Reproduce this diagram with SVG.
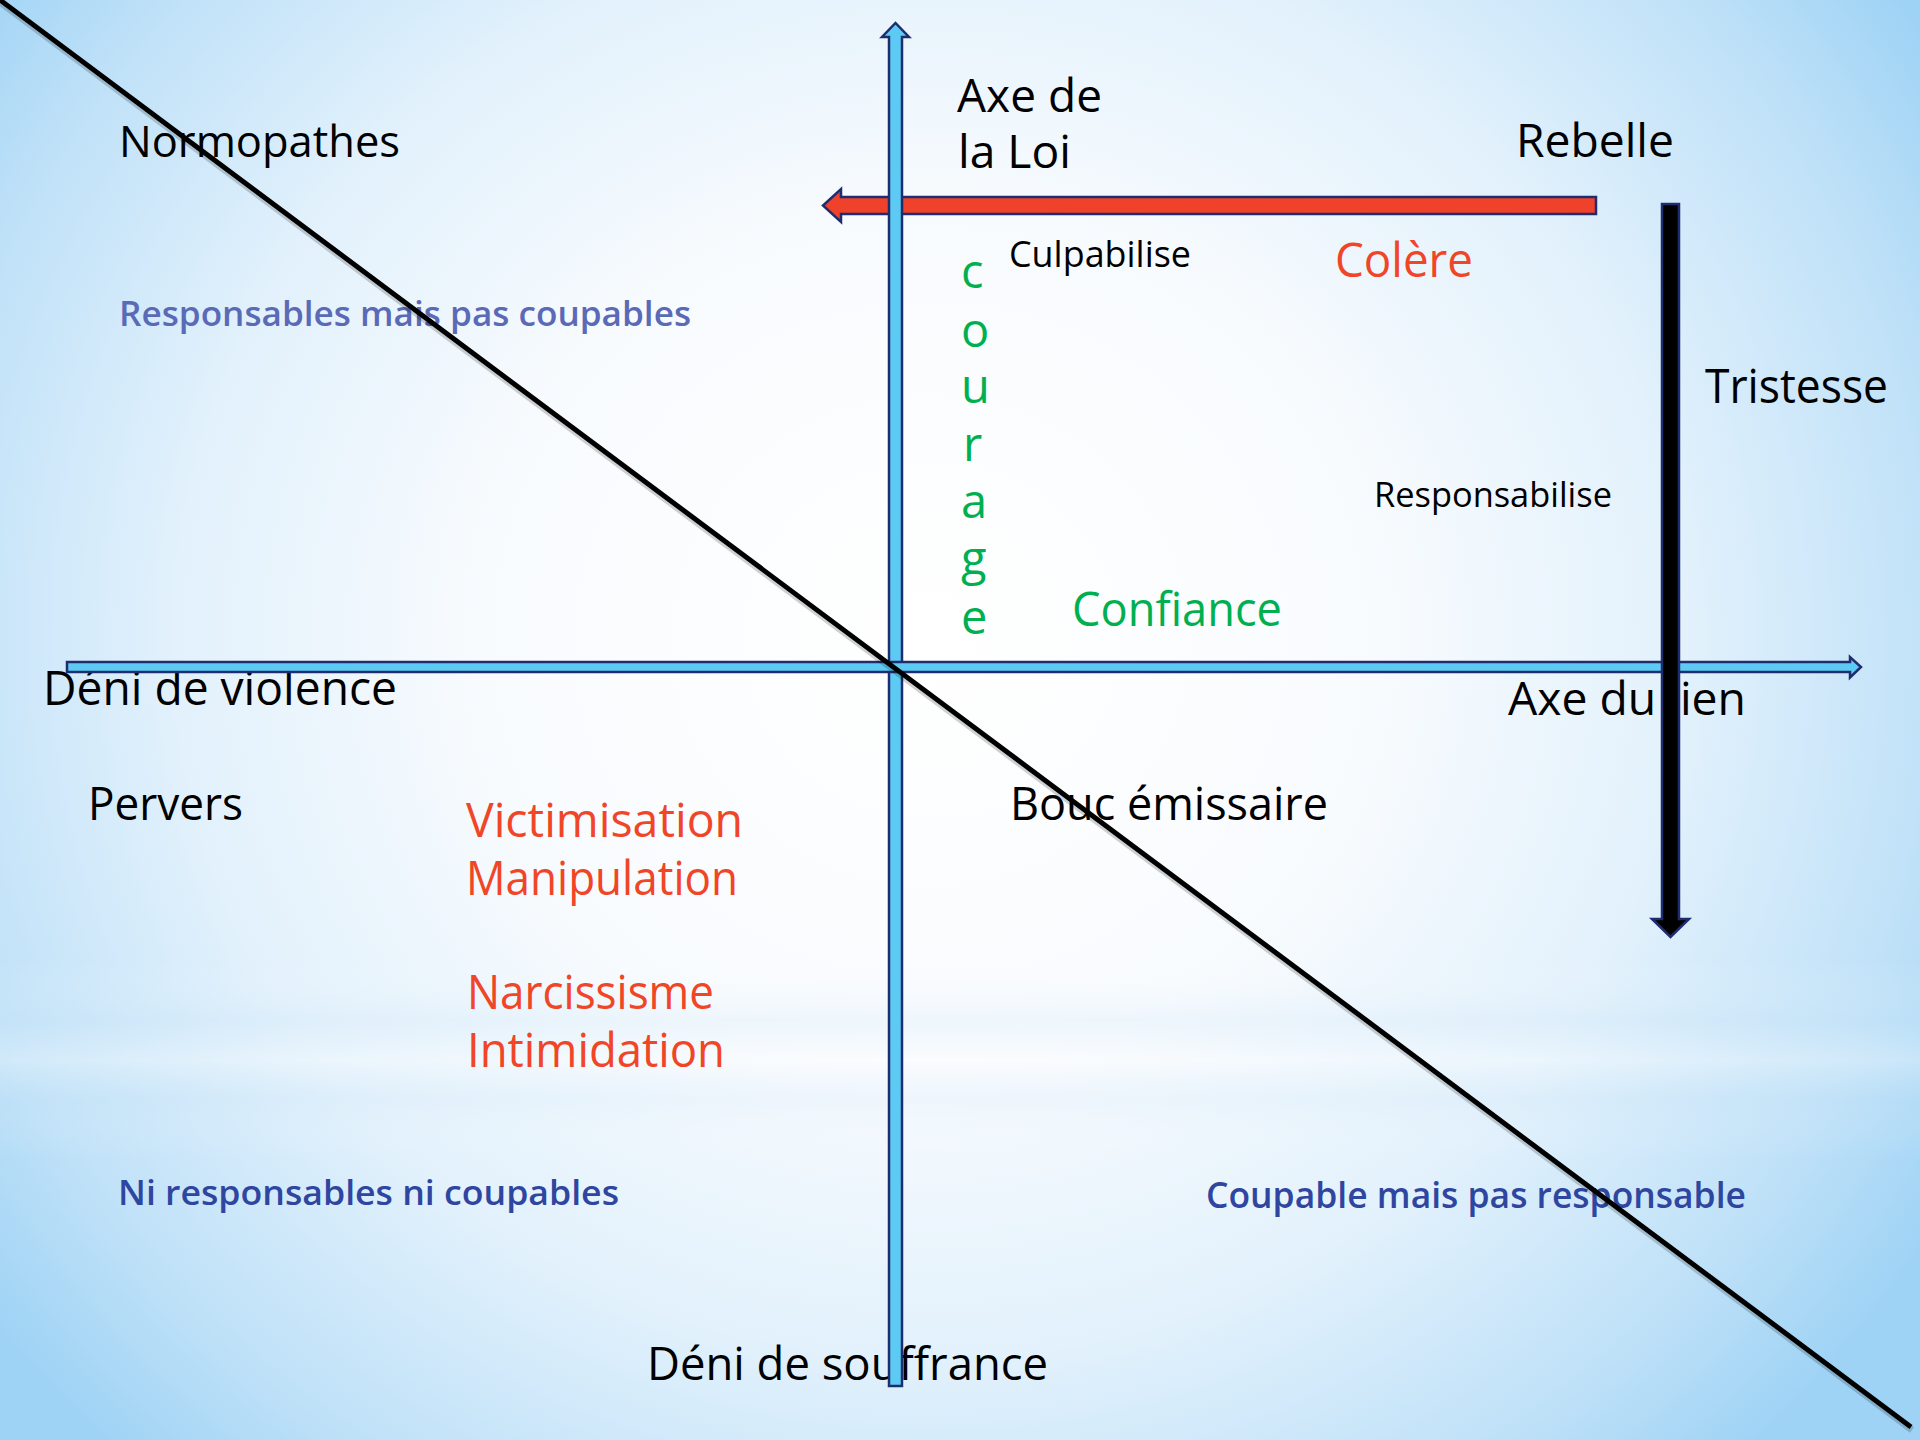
<svg xmlns="http://www.w3.org/2000/svg" width="1920" height="1440" viewBox="0 0 1920 1440">
<defs>
<radialGradient id="bg" gradientUnits="userSpaceOnUse" cx="930" cy="640" r="1180" gradientTransform="translate(930 640) scale(1 0.95) translate(-930 -640)">
<stop offset="0" stop-color="#ffffff"/>
<stop offset="0.38" stop-color="#f8fbfe"/>
<stop offset="0.64" stop-color="#e2f1fc"/>
<stop offset="0.86" stop-color="#bfe1f8"/>
<stop offset="1" stop-color="#9fd3f5"/>
</radialGradient>
<linearGradient id="band" x1="0" y1="0" x2="0" y2="1">
<stop offset="0" stop-color="#ffffff" stop-opacity="0"/>
<stop offset="0.3" stop-color="#cfe6f7" stop-opacity="0.25"/>
<stop offset="0.5" stop-color="#ffffff" stop-opacity="0.3"/>
<stop offset="0.7" stop-color="#cfe6f7" stop-opacity="0.2"/>
<stop offset="1" stop-color="#ffffff" stop-opacity="0"/>
</linearGradient>
<style>
text{font-family:"Open Sans","Liberation Sans",sans-serif;}
.k{fill:#000000;}
.r{fill:#f04526;}
.g{fill:#00b050;}
.b1{fill:#5a6ab7;font-weight:600;}
.b2{fill:#2f46a0;font-weight:600;}
.ax{fill:#5ccaf3;stroke:#1f2d6e;stroke-width:2.5;stroke-linejoin:miter;}
.red{fill:#f0412a;stroke:#1f2d6e;stroke-width:2.5;}
.blk{fill:#000000;stroke:#1f2d6e;stroke-width:2.5;}
.diag{stroke:#000000;stroke-width:5;fill:none;}
.shadow{stroke:#000000;stroke-opacity:0.18;stroke-width:7;fill:none;}
</style>
</defs>
<rect x="0" y="0" width="1920" height="1440" fill="url(#bg)"/>
<rect x="0" y="960" width="1920" height="200" fill="url(#band)"/>

<g id="nodes">
<g id="axe-loi"><text class="k" x="957" y="112" font-size="45" textLength="145" lengthAdjust="spacingAndGlyphs">Axe de</text><text class="k" x="958" y="168" font-size="45" textLength="113" lengthAdjust="spacingAndGlyphs">la Loi</text></g>
<g id="normopathes"><text class="k" x="119" y="157" font-size="44" textLength="281" lengthAdjust="spacingAndGlyphs">Normopathes</text></g>
<g id="rebelle"><text class="k" x="1516" y="157" font-size="45" textLength="158" lengthAdjust="spacingAndGlyphs">Rebelle</text></g>
<g id="culpabilise"><text class="k" x="1009" y="267" font-size="37" textLength="182" lengthAdjust="spacingAndGlyphs">Culpabilise</text></g>
<g id="colere"><text class="r" x="1335" y="277" font-size="47" textLength="138" lengthAdjust="spacingAndGlyphs">Colère</text></g>
<g id="courage"><text class="g" font-size="47"><tspan x="961" y="288">c</tspan><tspan x="961" y="347">o</tspan><tspan x="961" y="403">u</tspan><tspan x="963" y="461">r</tspan><tspan x="961" y="518">a</tspan><tspan x="961" y="575">g</tspan><tspan x="961" y="634">e</tspan></text></g>
<g id="responsables-mais"><text class="b1" x="119" y="326" font-size="35" textLength="572" lengthAdjust="spacingAndGlyphs">Responsables mais pas coupables</text></g>
<g id="tristesse"><text class="k" x="1705" y="403" font-size="48" textLength="183" lengthAdjust="spacingAndGlyphs">Tristesse</text></g>
<g id="responsabilise"><text class="k" x="1374" y="507" font-size="34" textLength="238" lengthAdjust="spacingAndGlyphs">Responsabilise</text></g>
<g id="confiance"><text class="g" x="1072" y="626" font-size="47" textLength="210" lengthAdjust="spacingAndGlyphs">Confiance</text></g>
<g id="deni-violence"><text class="k" x="43" y="705" font-size="47" textLength="354" lengthAdjust="spacingAndGlyphs">Déni de violence</text></g>
<g id="axe-lien"><text class="k" x="1508" y="715" font-size="46" textLength="238" lengthAdjust="spacingAndGlyphs">Axe du lien</text></g>
<g id="pervers"><text class="k" x="88" y="820" font-size="46" textLength="155" lengthAdjust="spacingAndGlyphs">Pervers</text></g>
<g id="bouc"><text class="k" x="1010" y="820" font-size="46" textLength="318" lengthAdjust="spacingAndGlyphs">Bouc émissaire</text></g>
<g id="victimisation"><text class="r" x="466" y="837" font-size="48" textLength="277" lengthAdjust="spacingAndGlyphs">Victimisation</text><text class="r" x="466" y="895" font-size="48" textLength="272" lengthAdjust="spacingAndGlyphs">Manipulation</text></g>
<g id="narcissisme"><text class="r" x="467" y="1009" font-size="48" textLength="247" lengthAdjust="spacingAndGlyphs">Narcissisme</text><text class="r" x="467" y="1067" font-size="48" textLength="258" lengthAdjust="spacingAndGlyphs">Intimidation</text></g>
<g id="ni-responsables"><text class="b2" x="118" y="1205" font-size="35" textLength="501" lengthAdjust="spacingAndGlyphs">Ni responsables ni coupables</text></g>
<g id="coupable-mais"><text class="b2" x="1206" y="1208" font-size="36" textLength="540" lengthAdjust="spacingAndGlyphs">Coupable mais pas responsable</text></g>
<g id="deni-souffrance"><text class="k" x="647" y="1380" font-size="45" textLength="401" lengthAdjust="spacingAndGlyphs">Déni de souffrance</text></g>
</g>

<g id="connectors">
<path class="red" d="M1596,197 L841,197 L841,189 L823,205.5 L841,222 L841,214 L1596,214 Z"/>
<path class="ax" d="M889,1386 L889,37 L882,37 L895.5,23 L909,37 L902,37 L902,1386 Z"/>
<path class="ax" d="M67,662 L1850,662 L1850,657 L1861,667 L1850,677.5 L1850,672 L67,672 Z"/>
<path class="blk" d="M1662,204 L1679,204 L1679,919 L1689,919 L1670.5,937 L1652,919 L1662,919 Z"/>
<line class="shadow" x1="-3" y1="0" x2="1912" y2="1430"/>
<line class="diag" x1="-4" y1="-3" x2="1911" y2="1427"/>
</g>
</svg>
